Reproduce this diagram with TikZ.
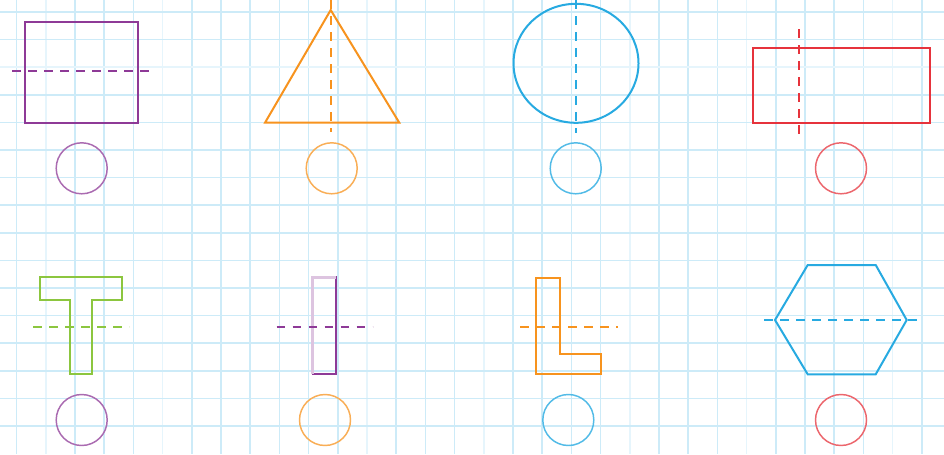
\documentclass[tikz,border=0pt]{standalone}
\definecolor{gridc}{HTML}{CDEBF8}
\definecolor{gridf}{HTML}{E6F5FC}
\definecolor{cpurple}{HTML}{8E3A97}
\definecolor{corange}{HTML}{F7931E}
\definecolor{cblue}{HTML}{27AAE1}
\definecolor{cred}{HTML}{E6333C}
\definecolor{cgreen}{HTML}{8CC63F}
\begin{document}
\begin{tikzpicture}[x=0.75pt,y=-0.75pt,
  figure/.style={line width=1.5pt,line join=miter},
  axisline/.style={line width=1.5pt,dash pattern=on 6.5pt off 5.5pt},
  ring/.style={line width=1.1pt},
  gridline/.style={gridc,line width=1.2pt},
  faintline/.style={gridf,line width=1.2pt}]
\useasboundingbox (0,0) rectangle (944,454);
\fill[white] (0,0) rectangle (944,454);
% grid
\foreach \k in {0,2,3,4,6,7,8,9,10,11,13,14,15,17,18,19,20,22,23,24,26,27,28,29,31}
  \draw[gridline] ({16.6+29.2*\k},0) -- ({16.6+29.2*\k},454);
\foreach \k in {1,5,12,16,21,25,30}
  \draw[faintline] ({16.6+29.2*\k},0) -- ({16.6+29.2*\k},454);
\foreach \k in {0,1,3,4,5,6,7,8,9,10,11,12,13,14,15}
  \draw[gridline] (0,{12+27.6*\k}) -- (944,{12+27.6*\k});
\foreach \k in {2}
  \draw[faintline] (0,{12+27.6*\k}) -- (944,{12+27.6*\k});
% --- top row ---
% purple rectangle
\draw[figure,cpurple] (25,21.7) rectangle (137.7,123);
\draw[axisline,cpurple] (12,71) -- (151,71);
\draw[ring,cpurple!75] (81.7,168.3) circle [radius=25.5];
% orange triangle
\draw[figure,corange] (330.7,10) -- (265,122.7) -- (399.3,122.7) -- cycle;
\draw[axisline,corange] (330.7,0) -- (330.7,131.7);
\draw[ring,corange!75] (331.7,168.3) circle [radius=25.5];
% blue circle
\draw[figure,cblue] (576,63.3) ellipse [x radius=62.5,y radius=59.5];
\draw[axisline,cblue] (576,0) -- (576,133);
\draw[ring,cblue!80] (575.7,168.3) circle [radius=25.5];
% red rectangle
\draw[figure,cred] (753.3,48.3) rectangle (930,123.3);
\draw[axisline,cred] (799,29.3) -- (799,140);
\draw[ring,cred!75] (841,168.3) circle [radius=25.5];
% --- bottom row ---
% green T
\draw[figure,cgreen] (40,277.3) -- (121.7,277.3) -- (121.7,300) -- (92.3,300) -- (92.3,374.3)
  -- (70,374.3) -- (70,300) -- (40,300) -- cycle;
\draw[axisline,cgreen] (33.3,326.7) -- (129.3,326.7);
\draw[ring,cpurple!75] (81.7,420) circle [radius=25.5];
% purple I
\draw[figure,cpurple] (312.7,277.3) rectangle (336,374.3);
\draw[line width=2.2pt,cpurple!30] (312.7,374.3) -- (312.7,277.3) -- (336,277.3);
\draw[axisline,cpurple] (276.7,326.7) -- (372.7,326.7);
\draw[ring,corange!75] (325,420) circle [radius=25.5];
% orange L
\draw[figure,corange] (536,277.7) -- (560,277.7) -- (560,354) -- (600.7,354) -- (600.7,374)
  -- (536,374) -- cycle;
\draw[axisline,corange] (520,326.7) -- (617.7,326.7);
\draw[ring,cblue!80] (568.3,420) circle [radius=25.5];
% blue hexagon
\draw[figure,cblue] (807.7,265) -- (875.7,265) -- (906.7,320) -- (875.7,374.3) -- (807.7,374.3)
  -- (775,320) -- cycle;
\draw[axisline,cblue] (764,320) -- (918.3,320);
\draw[ring,cred!75] (841,420) circle [radius=25.5];
\end{tikzpicture}
\end{document}
